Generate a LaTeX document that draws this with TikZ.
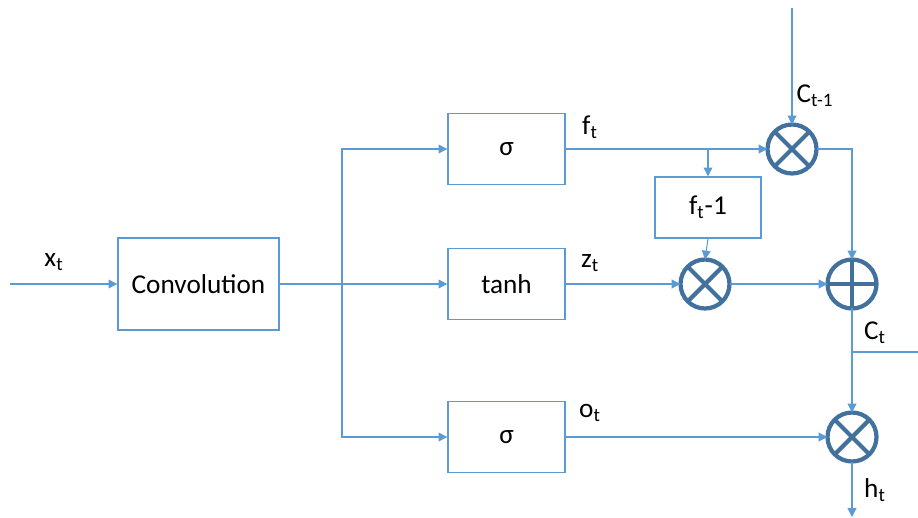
\documentclass[tikz,border=0pt]{standalone}
\usepackage{fontspec}
\setmainfont{Carlito}
\usetikzlibrary{arrows.meta, positioning, calc}
\definecolor{lineblue}{RGB}{91,155,213}
\definecolor{circblue}{RGB}{65,113,156}

\begin{document}
\begin{tikzpicture}[
    x=0.02cm, y=-0.02cm,
    font=\fontsize{15.5}{18}\selectfont,
    block/.style={draw=lineblue, line width=0.8pt, inner sep=0pt},
    gate/.style={block, minimum width=2.34cm, minimum height=1.42cm},
    op/.style={circle, draw=circblue, line width=2.4pt, minimum size=0.98cm, inner sep=0pt, outer sep=0pt},
    opmark/.style={circblue, line width=2.4pt},
    flow/.style={lineblue, line width=0.6pt, -{Triangle[length=5pt,width=5pt]}},
    wire/.style={lineblue, line width=0.6pt},
    lbl/.style={inner sep=0pt}
]
\useasboundingbox (0,0) rectangle (918,517);

% blocks
\node[block, minimum width=3.22cm, minimum height=1.84cm] (conv) at (198.5,284) {Convolution};
\node[gate] (sigf) at (506.5,149) {σ};
\node[gate] (tanh) at (506.5,284) {tanh};
\node[gate] (sigo) at (506.5,437) {σ};
\node[block, minimum width=2.12cm, minimum height=1.22cm] (fm) at (708,207.5) {f\textsubscript{t}-1};

% operators
\node[op] (mulf) at (792,149) {};
\node[op] (mulz) at (705,284) {};
\node[op] (add) at (852,284) {};
\node[op] (mulo) at (852,437) {};
\foreach \m in {mulf,mulz,mulo}
  \draw[opmark] (\m.north east) -- (\m.south west) (\m.north west) -- (\m.south east);
\draw[opmark] (add.north) -- (add.south) (add.west) -- (add.east);

% free ends
\coordinate (xin) at (10,284);
\coordinate (split) at (342,284);
\coordinate (ftap) at (708,149);
\coordinate (ctop) at (792,8);
\coordinate (ctap) at (852,352);
\coordinate (cout) at (918,352);
\coordinate (hout) at (852,517);

% connectors
\draw[flow] (xin) -- (conv.west);
\draw[wire] (conv.east) -- (split);
\draw[flow] (split) -- (tanh.west);
\draw[flow] (split) |- (sigf.west);
\draw[flow] (split) |- (sigo.west);
\draw[flow] (sigf.east) -- (mulf.west);
\draw[flow] (ftap) -- (fm.north);
\draw[flow] (fm.south) -- (mulz.north);
\draw[flow] (tanh.east) -- (mulz.west);
\draw[flow] (mulz.east) -- (add.west);
\draw[flow] (ctop) -- (mulf.north);
\draw[flow] (mulf.east) -| (add.north);
\draw[wire] (add.south) -- (ctap) -- (cout);
\draw[flow] (ctap) -- (mulo.north);
\draw[flow] (sigo.east) -- (mulo.west);
\draw[flow] (mulo.south) -- (hout);

% labels
\node[lbl] (xl) at (54,262) {x\textsubscript{t}};
\node[lbl] (fl) at (590,127) {f\textsubscript{t}};
\node[lbl] (zl) at (590,263) {z\textsubscript{t}};
\node[lbl] (ol) at (590,413) {o\textsubscript{t}};
\node[lbl] (cpl) at (815,96) {C\textsubscript{t-1}};
\node[lbl] (cl) at (875,333) {C\textsubscript{t}};
\node[lbl] (hl) at (875,490) {h\textsubscript{t}};
\end{tikzpicture}
\end{document}
